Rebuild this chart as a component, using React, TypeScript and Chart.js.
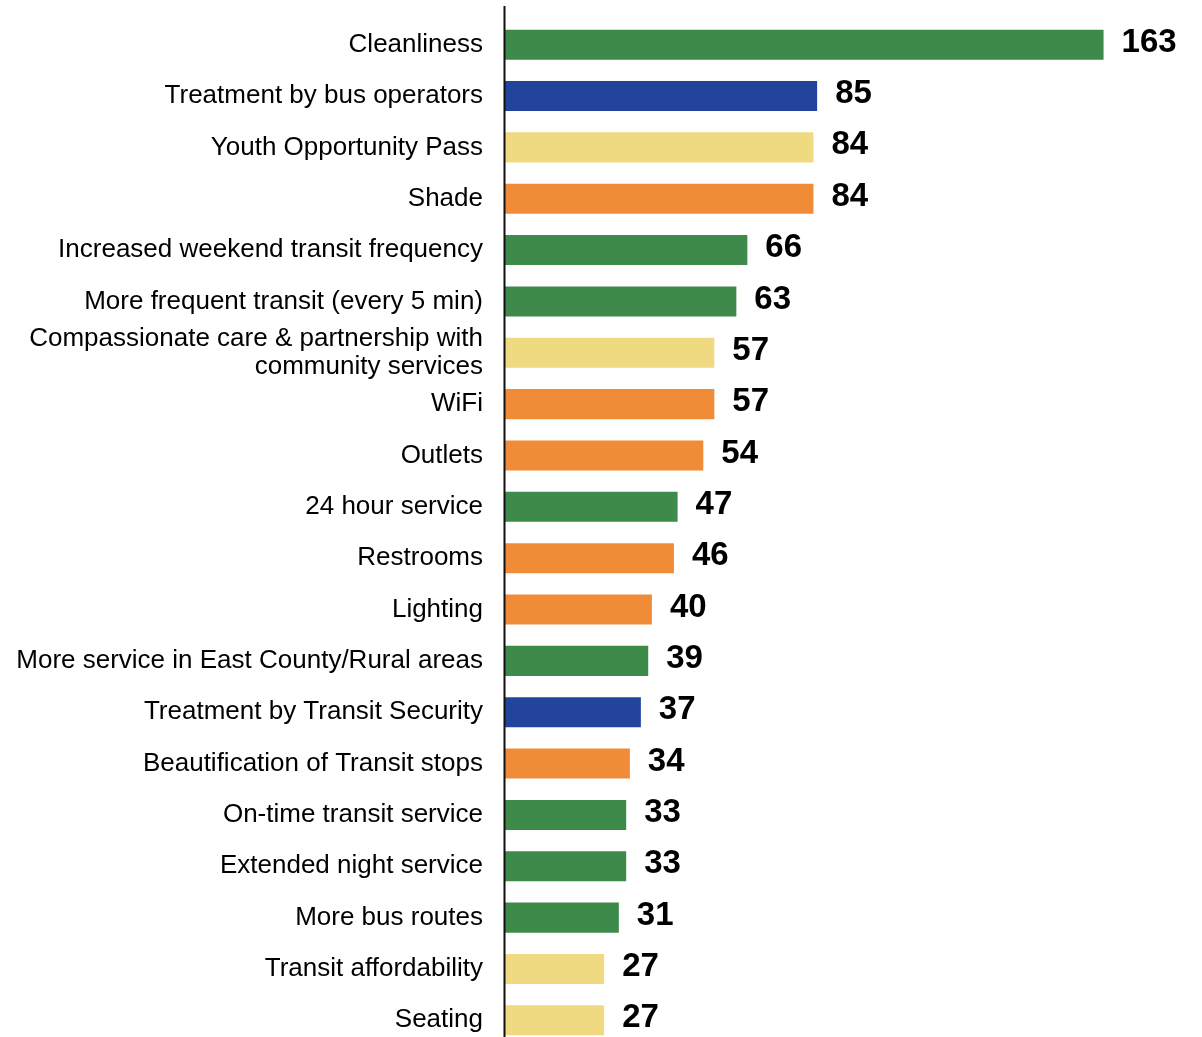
import React, { useEffect, useRef } from "react";
import { Chart, registerables } from "chart.js";

Chart.register(...registerables);

const categories: (string | string[])[] = [
  "Cleanliness",
  "Treatment by bus operators",
  "Youth Opportunity Pass",
  "Shade",
  "Increased weekend transit frequency",
  "More frequent transit (every 5 min)",
  ["Compassionate care & partnership with", "community services"],
  "WiFi",
  "Outlets",
  "24 hour service",
  "Restrooms",
  "Lighting",
  "More service in East County/Rural areas",
  "Treatment by Transit Security",
  "Beautification of Transit stops",
  "On-time transit service",
  "Extended night service",
  "More bus routes",
  "Transit affordability",
  "Seating",
];

const values: number[] = [163, 85, 84, 84, 66, 63, 57, 57, 54, 47, 46, 40, 39, 37, 34, 33, 33, 31, 27, 27];

const groups: string[] = [
  "green", "blue", "yellow", "orange", "green", "green", "yellow", "orange", "orange", "green",
  "orange", "orange", "green", "blue", "orange", "green", "green", "green", "yellow", "yellow",
];

const palette: Record<string, string> = {
  green: "#3e8a4b",
  blue: "#23449b",
  yellow: "#efda82",
  orange: "#f08b38",
};

const FONT = "Helvetica, Arial, 'Liberation Sans', sans-serif";

const extrasPlugin = {
  id: "extras",
  afterDatasetsDraw(chart: any) {
    const ctx = chart.ctx;
    const meta = chart.getDatasetMeta(0);
    const xs = chart.scales.x;
    ctx.save();
    // axis line
    const x0 = Math.round(xs.getPixelForValue(0)) - 0.5;
    ctx.strokeStyle = "#111";
    ctx.lineWidth = 2;
    ctx.beginPath();
    ctx.moveTo(x0, 6);
    ctx.lineTo(x0, chart.height);
    ctx.stroke();
    // value labels
    ctx.fillStyle = "#000";
    ctx.font = `bold 33px ${FONT}`;
    ctx.textAlign = "left";
    ctx.textBaseline = "middle";
    meta.data.forEach((bar: any, i: number) => {
      ctx.fillText(String(values[i]), bar.x + 18, bar.y - 2);
    });
    ctx.restore();
  },
};

export default function App() {
  const ref = useRef<HTMLCanvasElement>(null);
  useEffect(() => {
    if (!ref.current) return;
    const chart = new Chart(ref.current, {
      type: "bar",
      data: {
        labels: categories,
        datasets: [
          {
            data: values,
            backgroundColor: groups.map((g) => palette[g]),
            borderWidth: 0,
            barPercentage: 0.585,
            categoryPercentage: 1,
          },
        ],
      },
      options: {
        indexAxis: "y",
        animation: false,
        responsive: false,
        maintainAspectRatio: false,
        layout: { padding: { top: 19, right: 36, bottom: 0, left: 0 } },
        plugins: {
          legend: { display: false },
          tooltip: { enabled: false },
        },
        scales: {
          x: {
            display: false,
            min: 0,
            max: 180,
          },
          y: {
            grid: { display: false, drawTicks: false },
            border: { display: false },
            afterFit: (s: any) => {
              s.width = 505;
              s.paddingTop = 0;
              s.paddingBottom = 0;
            },
            ticks: {
              autoSkip: false,
              padding: 22,
              color: "#000",
              font: { family: FONT, size: 26, lineHeight: 1.08 },
            },
          },
        },
      },
      plugins: [extrasPlugin],
    });
    return () => chart.destroy();
  }, []);
  return (
    <div
      style={{
        position: "fixed",
        top: 0,
        left: 0,
        width: 1202,
        height: 1037,
        overflow: "hidden",
        background: "#fff",
      }}
    >
      <canvas ref={ref} width={1202} height={1046} style={{ display: "block" }} />
    </div>
  );
}
